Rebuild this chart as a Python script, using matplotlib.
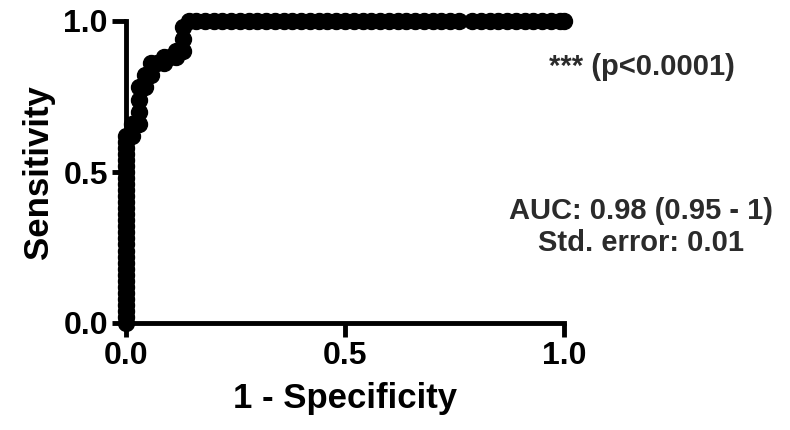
import matplotlib
matplotlib.use("Agg")
import matplotlib.pyplot as plt

# ROC points (1 - specificity, sensitivity)
fpr = [0.0, 0.0, 0.0, 0.0, 0.0, 0.0, 0.0, 0.0, 0.0, 0.0,
       0.0, 0.0, 0.0, 0.0, 0.0, 0.0, 0.0, 0.0, 0.0, 0.0,
       0.0, 0.0, 0.0, 0.0, 0.0, 0.0, 0.0, 0.0, 0.0, 0.0,
       0.0, 0.0,
       0.014, 0.014, 0.029, 0.029, 0.029, 0.029, 0.043, 0.043,
       0.057, 0.057, 0.071, 0.086, 0.086, 0.10, 0.114, 0.114,
       0.129, 0.129, 0.129, 0.143,
       0.16, 0.18, 0.20, 0.22, 0.24, 0.26, 0.28, 0.30, 0.32, 0.34,
       0.36, 0.38, 0.40, 0.42, 0.44, 0.46, 0.48, 0.50, 0.52, 0.54,
       0.56, 0.58, 0.60, 0.62, 0.64, 0.66, 0.68, 0.70, 0.72, 0.74,
       0.76, 0.79, 0.81, 0.83, 0.85, 0.87, 0.89, 0.91, 0.93, 0.95,
       0.97, 0.99, 1.0]
tpr = [0.00, 0.02, 0.04, 0.06, 0.08, 0.10, 0.12, 0.14, 0.16, 0.18,
       0.20, 0.22, 0.24, 0.26, 0.28, 0.30, 0.32, 0.34, 0.36, 0.38,
       0.40, 0.42, 0.44, 0.46, 0.48, 0.50, 0.52, 0.54, 0.56, 0.58,
       0.60, 0.62,
       0.62, 0.66, 0.66, 0.70, 0.74, 0.78, 0.78, 0.82,
       0.82, 0.86, 0.86, 0.86, 0.88, 0.88, 0.88, 0.90,
       0.90, 0.94, 0.98, 1.0,
       1.0, 1.0, 1.0, 1.0, 1.0, 1.0, 1.0, 1.0, 1.0, 1.0,
       1.0, 1.0, 1.0, 1.0, 1.0, 1.0, 1.0, 1.0, 1.0, 1.0,
       1.0, 1.0, 1.0, 1.0, 1.0, 1.0, 1.0, 1.0, 1.0, 1.0,
       1.0, 1.0, 1.0, 1.0, 1.0, 1.0, 1.0, 1.0, 1.0, 1.0,
       1.0, 1.0, 1.0]

ticks = [0.0, 0.5, 1.0]
tick_labels = ["0.0", "0.5", "1.0"]

p_text = "*** (p<0.0001)"
auc_text = "AUC: 0.98 (0.95 - 1)"
se_text = "Std. error: 0.01"

plt.rcParams["font.family"] = ["Liberation Sans", "DejaVu Sans"]
plt.rcParams["font.weight"] = "bold"

W, H = 790, 430
fig = plt.figure(figsize=(W / 100, H / 100), dpi=100)
ax = fig.add_axes([126 / W, 1 - 323 / H, (564 - 126) / W, (323 - 21) / H])

ax.plot(fpr, tpr, color="black", lw=2, marker="o", ms=11.5,
        mfc="black", mec="black", clip_on=False, zorder=5)

ax.set_xlim(0, 1)
ax.set_ylim(0, 1)
for side in ("top", "right"):
    ax.spines[side].set_visible(False)
for side in ("left", "bottom"):
    ax.spines[side].set_linewidth(3.5)

ax.set_xticks(ticks)
ax.set_xticklabels(tick_labels)
ax.set_yticks(ticks)
ax.set_yticklabels(tick_labels)
ax.tick_params(direction="out", length=10, width=3.5, labelsize=23, pad=3)

ax.set_xlabel("1 - Specificity", fontsize=25, fontweight="bold", labelpad=8)
ax.set_ylabel("Sensitivity", fontsize=25, fontweight="bold", labelpad=6)

txt = dict(ha="center", va="center", fontsize=21, fontweight="bold", color="#2b2b2b")
fig.text(642 / W, 1 - 67 / H, p_text, **txt)
fig.text(641 / W, 1 - 211 / H, auc_text, **txt)
fig.text(641 / W, 1 - 243 / H, se_text, **txt)

fig.savefig("out.png", dpi=100)
